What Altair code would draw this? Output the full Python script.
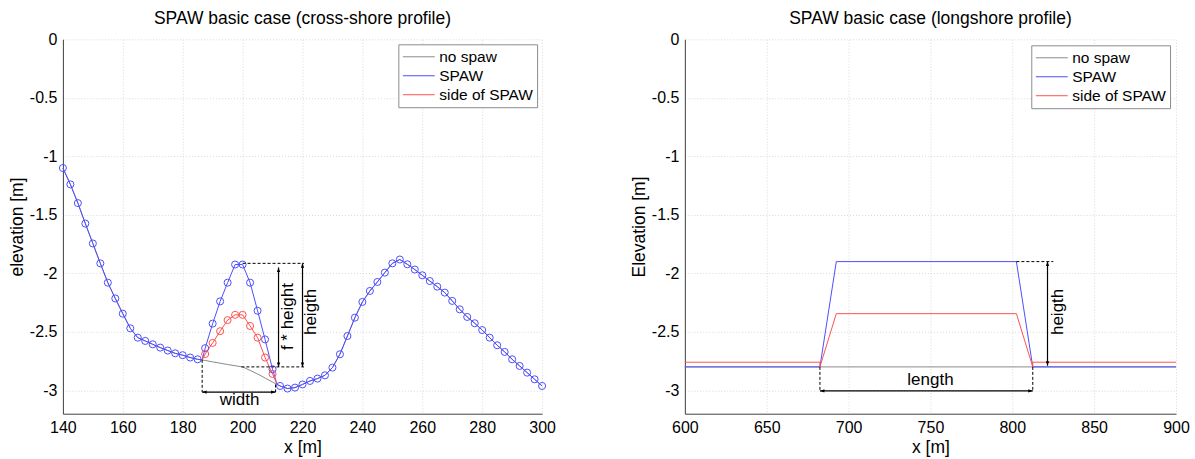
import altair as alt
import pandas as pd

FONT = "Liberation Sans"
C_GRAY = "#8a8a8a"
C_BLUE = "#4d4dff"
C_RED = "#ff5050"

series_names = ["no spaw", "SPAW", "side of SPAW"]
series_colors = [C_GRAY, C_BLUE, C_RED]

# ---------------- cross-shore profile ----------------
cs_x = [140, 142.5, 145, 147.5, 150, 152.5, 155, 157.5, 160, 162.5, 165, 167.5, 170, 172.5,
        175, 177.5, 180, 182.5, 185, 187.5, 190, 192.5, 195, 197.5, 200, 202.5, 205, 207.5,
        210, 212.5, 215, 217.5, 220, 222.5, 225, 227.5, 230, 232.5, 235, 237.5, 240, 242.5,
        245, 247.5, 250, 252.5, 255, 257.5, 260, 262.5, 265, 267.5, 270, 272.5, 275, 277.5,
        280, 282.5, 285, 287.5, 290, 292.5, 295, 297.5, 300]
cs_nospaw = [-1.10, -1.24, -1.40, -1.575, -1.745, -1.915, -2.08, -2.215, -2.345, -2.47, -2.55,
             -2.578, -2.607, -2.635, -2.66, -2.684, -2.70, -2.72, -2.735, -2.745, -2.757,
             -2.768, -2.78, -2.79, -2.80, -2.83, -2.86, -2.895, -2.93, -2.963, -2.985, -2.977,
             -2.95, -2.92, -2.90, -2.872, -2.806, -2.692, -2.536, -2.379, -2.245, -2.151,
             -2.074, -1.994, -1.915, -1.882, -1.923, -1.968, -2.017, -2.066, -2.114, -2.165,
             -2.236, -2.308, -2.373, -2.427, -2.485, -2.55, -2.615, -2.672, -2.735, -2.792,
             -2.849, -2.906, -2.963]

cs_spaw_x = [140, 142.5, 145, 147.5, 150, 152.5, 155, 157.5, 160, 162.5, 165, 167.5, 170, 172.5,
             175, 177.5, 180, 182.5, 185, 186.5, 187.5, 190, 192.5, 195, 197.5, 200, 202.5, 205,
             207.5, 210, 211.5, 212.5, 215, 217.5, 220, 222.5, 225, 227.5, 230, 232.5, 235,
             237.5, 240, 242.5, 245, 247.5, 250, 252.5, 255, 257.5, 260, 262.5, 265, 267.5,
             270, 272.5, 275, 277.5, 280, 282.5, 285, 287.5, 290, 292.5, 295, 297.5, 300]
cs_spaw_y = [-1.10, -1.24, -1.40, -1.575, -1.745, -1.915, -2.08, -2.215, -2.345, -2.47, -2.55,
             -2.578, -2.607, -2.635, -2.66, -2.684, -2.70, -2.72, -2.735, -2.74, -2.64, -2.43,
             -2.24, -2.08, -1.925, -1.925, -2.08, -2.32, -2.565, -2.82, -2.95, -2.963, -2.985,
             -2.977, -2.95, -2.92, -2.90, -2.872, -2.806, -2.692, -2.536, -2.379, -2.245,
             -2.151, -2.074, -1.994, -1.915, -1.882, -1.923, -1.968, -2.017, -2.066, -2.114,
             -2.165, -2.236, -2.308, -2.373, -2.427, -2.485, -2.55, -2.615, -2.672, -2.735,
             -2.792, -2.849, -2.906, -2.963]

cs_side_x = [186.5, 187.5, 190, 192.5, 195, 197.5, 200, 202.5, 205, 207.5, 210, 211.5]
cs_side_y = [-2.74, -2.69, -2.595, -2.495, -2.40, -2.355, -2.355, -2.45, -2.55, -2.72, -2.86, -2.95]

cs_x_ticks = [140, 160, 180, 200, 220, 240, 260, 280, 300]

# annotations (data units)
cs_dash_x1 = [200, 199.6, 186.5, 211]
cs_dash_y1 = [-1.915, -2.80, -2.74, -2.95]
cs_dash_x2 = [220.5, 220.5, 186.5, 211]
cs_dash_y2 = [-1.915, -2.80, -3.015, -3.015]

cs_arrow_x1 = [220, 212, 186.5]
cs_arrow_y1 = [-1.915, -1.95, -3.015]
cs_arrow_x2 = [220, 212, 211]
cs_arrow_y2 = [-2.80, -2.80, -3.015]

cs_text = ["width", "f * height", "heigth"]
cs_text_x = [199, 215.3, 223]
cs_text_y = [-3.08, -2.37, -2.33]
cs_text_angle = [0, 270, 270]

# ---------------- longshore profile ----------------
ls_nospaw_x = [600, 900]
ls_nospaw_y = [-2.80, -2.80]
ls_spaw_x = [600, 682.5, 692.5, 802.5, 812.5, 900]
ls_spaw_y = [-2.80, -2.80, -1.90, -1.90, -2.80, -2.80]
ls_side_x = [600, 682.5, 682.5, 692.5, 802.5, 812.5, 812.5, 900]
ls_side_y = [-2.76, -2.76, -2.80, -2.345, -2.345, -2.80, -2.76, -2.76]

ls_x_ticks = [600, 650, 700, 750, 800, 850, 900]

ls_dash_x1 = [682.5, 812.5, 802.5]
ls_dash_y1 = [-2.80, -2.80, -1.90]
ls_dash_x2 = [682.5, 812.5, 825]
ls_dash_y2 = [-3.005, -3.005, -1.90]

ls_arrow_x1 = [682.5, 821.5]
ls_arrow_y1 = [-3.005, -1.90]
ls_arrow_x2 = [812.5, 821.5]
ls_arrow_y2 = [-3.005, -2.79]

ls_text = ["length", "heigth"]
ls_text_x = [750, 828]
ls_text_y = [-2.915, -2.33]
ls_text_angle = [0, 270]

y_ticks = [-3, -2.5, -2, -1.5, -1, -0.5, 0]

# arrow head shapes (tip at origin)
HEAD_UP = "M0,0L-0.55,1.5L0.55,1.5Z"
HEAD_DOWN = "M0,0L-0.55,-1.5L0.55,-1.5Z"
HEAD_LEFT = "M0,0L1.5,-0.55L1.5,0.55Z"
HEAD_RIGHT = "M0,0L-1.5,-0.55L-1.5,0.55Z"


def heads(x1, y1, x2, y2):
    rows = []
    for a, b, c, d in zip(x1, y1, x2, y2):
        if a == c:
            top, bot = (b, d) if b > d else (d, b)
            rows.append({"x": a, "y": top, "shape": HEAD_UP})
            rows.append({"x": a, "y": bot, "shape": HEAD_DOWN})
        else:
            lft, rgt = (a, c) if a < c else (c, a)
            rows.append({"x": lft, "y": b, "shape": HEAD_LEFT})
            rows.append({"x": rgt, "y": b, "shape": HEAD_RIGHT})
    return pd.DataFrame(rows)


def panel(title, ytitle, xdom, xticks, lines, markers, dash, arrows, texts, width, legend):
    xs = alt.Scale(domain=xdom, nice=False, zero=False)
    ys = alt.Scale(domain=[-3.2, 0], nice=False, zero=False)
    xax = alt.Axis(values=xticks, title="x [m]", grid=True, labelPadding=6, titlePadding=3,
                   labelFlush=False)
    yax = alt.Axis(values=y_ticks, title=ytitle, grid=True, labelExpr="'' + datum.value",
                   labelPadding=6, titlePadding=3)
    X = lambda f="x": alt.X(f"{f}:Q", scale=xs, axis=xax)
    Y = lambda f="y": alt.Y(f"{f}:Q", scale=ys, axis=yax)

    color = alt.Color("series:N", scale=alt.Scale(domain=series_names, range=series_colors),
                      legend=legend)

    layers = []
    for sx, sy, name in lines:
        df = pd.DataFrame({"x": sx, "y": sy, "series": name, "order": range(len(sx))})
        layers.append(alt.Chart(df).mark_line(strokeWidth=1).encode(
            x=X(), y=Y(), color=color, order="order:Q"))
    for sx, sy, col in markers:
        df = pd.DataFrame({"x": sx, "y": sy})
        layers.append(alt.Chart(df).transform_filter("datum.x % 2.5 == 0").mark_point(
            shape="circle", size=50, filled=False, strokeWidth=1, color=col, opacity=1).encode(
            x=X(), y=Y()))
    ddf = pd.DataFrame({"x": dash[0], "y": dash[1], "x2": dash[2], "y2": dash[3]})
    layers.append(alt.Chart(ddf).mark_rule(color="black", strokeWidth=1, strokeDash=[3, 2]).encode(
        x=X(), y=Y(), x2="x2:Q", y2="y2:Q"))
    adf = pd.DataFrame({"x": arrows[0], "y": arrows[1], "x2": arrows[2], "y2": arrows[3]})
    layers.append(alt.Chart(adf).mark_rule(color="black", strokeWidth=1.2).encode(
        x=X(), y=Y(), x2="x2:Q", y2="y2:Q"))
    hdf = heads(*arrows)
    layers.append(alt.Chart(hdf).mark_point(filled=True, size=36, color="black", opacity=1,
                                            strokeWidth=0).encode(
        x=X(), y=Y(), shape=alt.Shape("shape:N", scale=None)))
    tdf = pd.DataFrame({"t": texts[0], "x": texts[1], "y": texts[2], "a": texts[3]})
    layers.append(alt.Chart(tdf).mark_text(font=FONT, fontSize=17, color="black",
                                           align="center", baseline="middle").encode(
        x=X(), y=Y(), text="t:N", angle=alt.Angle("a:Q", scale=None)))

    return alt.layer(*layers).properties(
        width=width, height=375,
        title=alt.TitleParams(title, fontSize=17.5, font=FONT, fontWeight="normal", offset=4,
                              anchor="middle", color="black"))


def make_legend(offset):
    return alt.Legend(title=None, orient="top-right", offset=offset, labelFontSize=15.5,
                      labelFont=FONT, labelColor="black", padding=4, rowPadding=2,
                      clipHeight=17, symbolType="stroke", symbolSize=1024, symbolStrokeWidth=1,
                      labelOffset=4, strokeColor="#8c8c8c", fillColor="white")


left = panel("SPAW basic case (cross-shore profile)", "elevation [m]", [140, 300], cs_x_ticks,
             [(cs_x, cs_nospaw, "no spaw"), (cs_spaw_x, cs_spaw_y, "SPAW"),
              (cs_side_x, cs_side_y, "side of SPAW")],
             [(cs_spaw_x, cs_spaw_y, C_BLUE), (cs_side_x, cs_side_y, C_RED)],
             (cs_dash_x1, cs_dash_y1, cs_dash_x2, cs_dash_y2),
             (cs_arrow_x1, cs_arrow_y1, cs_arrow_x2, cs_arrow_y2),
             (cs_text, cs_text_x, cs_text_y, cs_text_angle), 480, make_legend(5))

right = panel("SPAW basic case (longshore profile)", "Elevation [m]", [600, 900], ls_x_ticks,
              [(ls_nospaw_x, ls_nospaw_y, "no spaw"), (ls_spaw_x, ls_spaw_y, "SPAW"),
               (ls_side_x, ls_side_y, "side of SPAW")],
              [],
              (ls_dash_x1, ls_dash_y1, ls_dash_x2, ls_dash_y2),
              (ls_arrow_x1, ls_arrow_y1, ls_arrow_x2, ls_arrow_y2),
              (ls_text, ls_text_x, ls_text_y, ls_text_angle), 492, make_legend(6))

chart = alt.hconcat(left, right, spacing=74).resolve_scale(color="independent").properties(
    padding={"left": 8, "top": 9, "right": 5, "bottom": 3}
).configure_axis(
    labelFont=FONT, titleFont=FONT, labelFontSize=16, titleFontSize=17.5, labelColor="black",
    titleColor="black", titleFontWeight="normal", domainColor="#404040", domainWidth=1,
    tickSize=0, gridColor="#d8d8d8", gridDash=[1, 2], gridWidth=1
).configure_view(stroke=None)

chart.save("out.html", embed_options={"renderer": "svg", "actions": False})
